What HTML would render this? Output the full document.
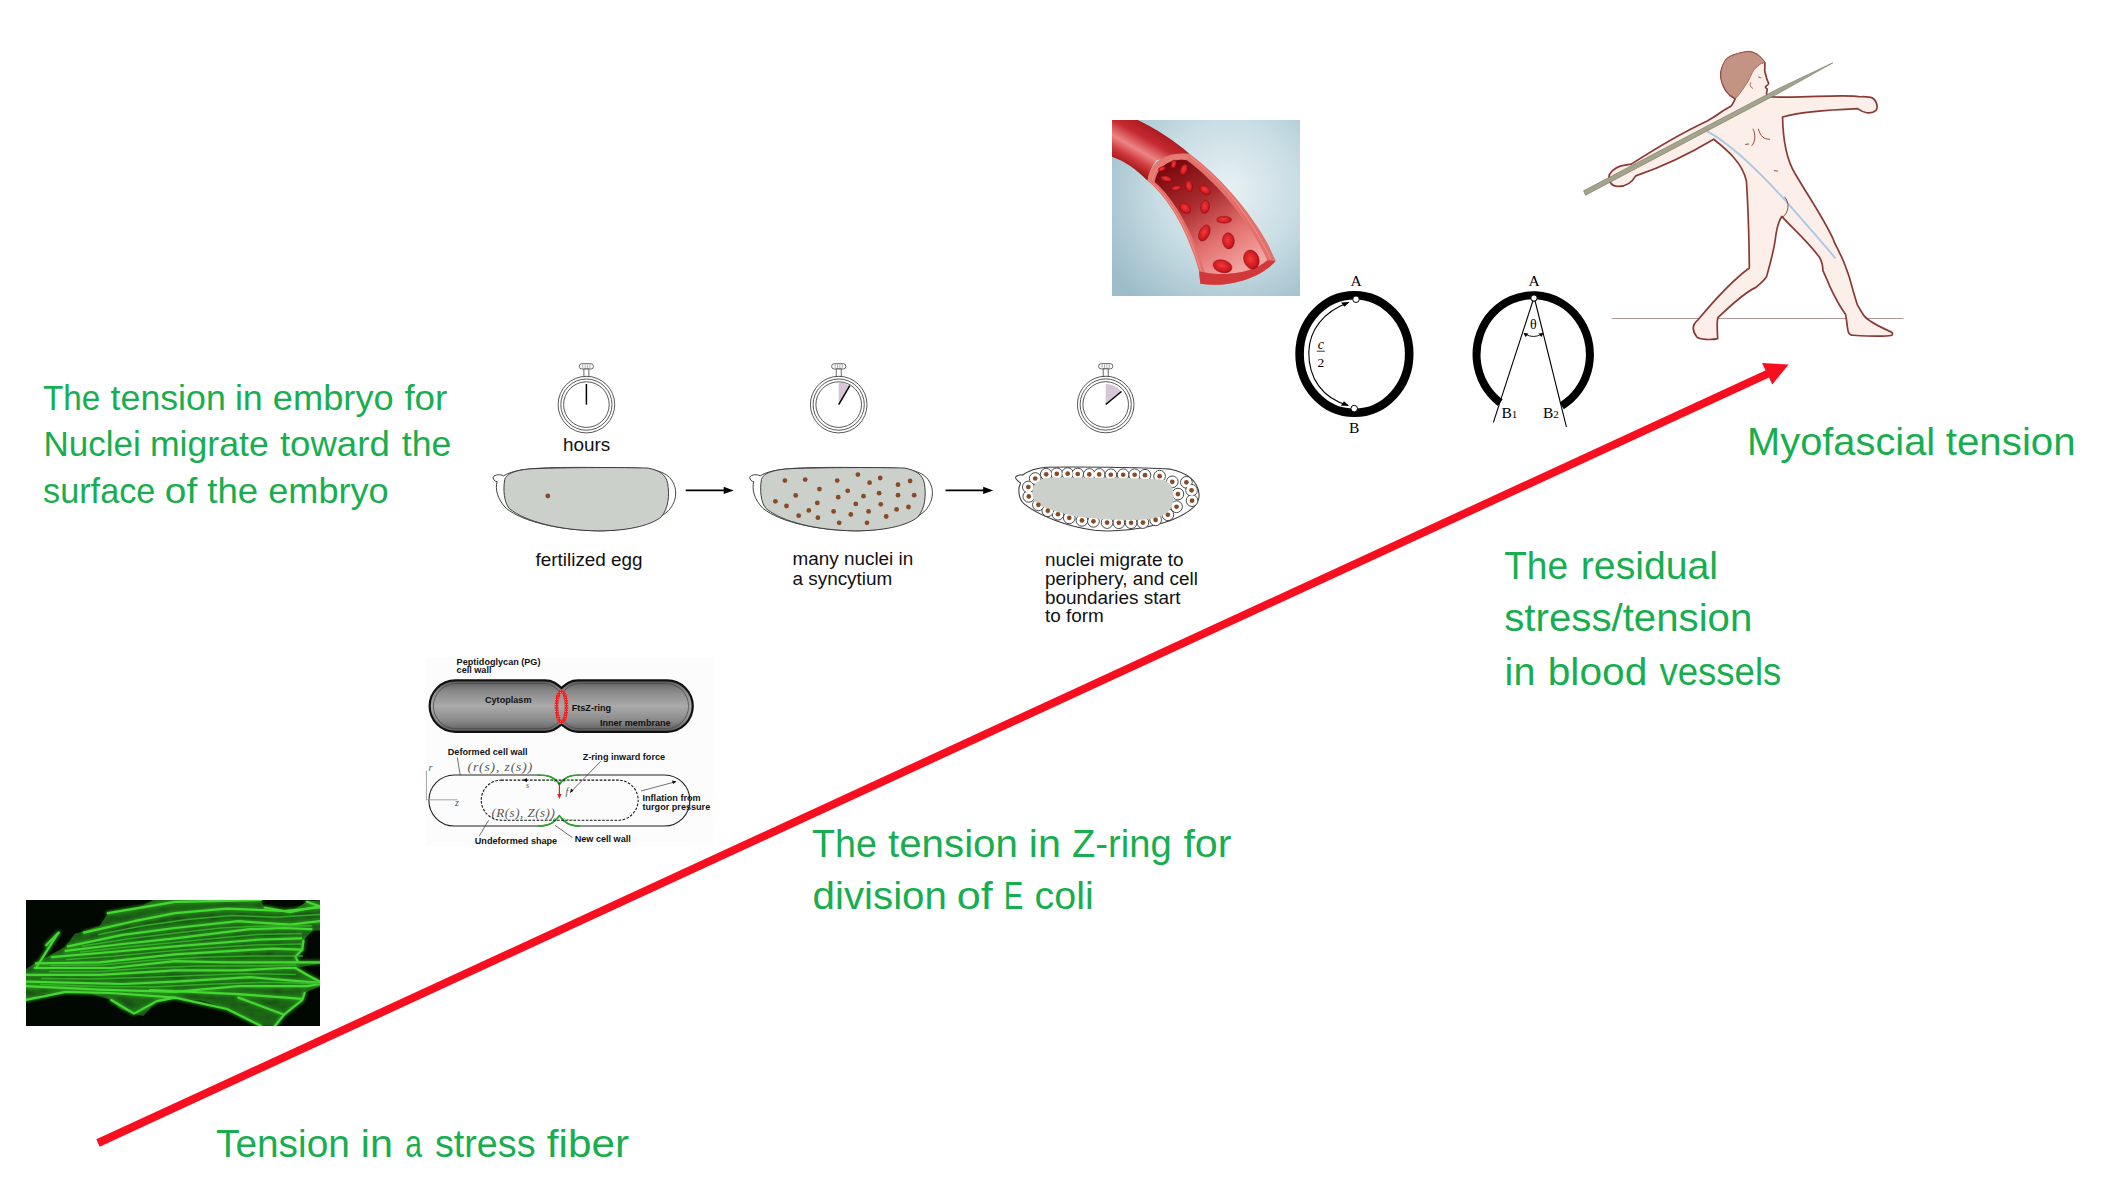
<!DOCTYPE html>
<html><head><meta charset="utf-8"><title>Tension</title>
<style>
html,body{margin:0;padding:0;background:#ffffff;overflow:hidden;width:2126px;height:1184px}
svg{display:block}
text{font-family:"Liberation Sans",sans-serif}
.g{fill:#18ae50;font-size:39.5px}
.ge{fill:#18ae50;font-size:35.8px}
.cap{fill:#111;font-size:15px}
.eb{fill:#2a2a2a;font-size:8.4px;font-weight:bold}
.ser,.ser text{font-family:"Liberation Serif",serif}
</style></head>
<body>
<svg width="2126" height="1184" viewBox="0 0 2126 1184">
<!-- stress fiber fluorescence image -->
<defs><clipPath id="fclip"><rect x="26" y="900" width="294" height="126"/></clipPath>
<filter id="fb1" x="-20%" y="-20%" width="140%" height="140%"><feGaussianBlur stdDeviation="1.6"/></filter>
<filter id="fb2" x="-20%" y="-20%" width="140%" height="140%"><feGaussianBlur stdDeviation="0.55"/></filter></defs>
<rect x="26" y="900" width="294" height="126" fill="#010701"/>
<g clip-path="url(#fclip)">
<polygon points="25.9,969.0 34.8,963.4 51.9,954.3 65.6,946.3 74.7,933.8 83.9,931.5 99.8,925.8 107.8,913.2 116.9,911.0 134.0,909.8 153.4,900.1 260.1,900.1 264.7,907.5 278.3,910.4 289.8,912.1 306.9,901.8 320.0,900.1 320.0,930.4 312.6,930.4 303.4,940.6 302.3,949.7 295.5,956.6 297.7,961.2 320.0,961.5 320.0,963.5 295.5,968.0 306.9,974.8 320.0,981.7 320.0,986.2 304.6,993.1 302.3,1000.0 284.0,1014.7 274.9,1026.0 261.2,1026.0 227.0,1009.0 204.2,1001.1 175.0,997.6 156.9,1001.1 143.2,1015.9 134.0,1013.6 120.4,1009.0 111.2,1000.0 88.4,993.1 65.6,991.9 42.8,994.2 25.9,999.9" fill="#1c6614" filter="url(#fb2)"/>
<clipPath id="cellclip"><polygon points="25.9,969.0 34.8,963.4 51.9,954.3 65.6,946.3 74.7,933.8 83.9,931.5 99.8,925.8 107.8,913.2 116.9,911.0 134.0,909.8 153.4,900.1 260.1,900.1 264.7,907.5 278.3,910.4 289.8,912.1 306.9,901.8 320.0,900.1 320.0,930.4 312.6,930.4 303.4,940.6 302.3,949.7 295.5,956.6 297.7,961.2 320.0,961.5 320.0,963.5 295.5,968.0 306.9,974.8 320.0,981.7 320.0,986.2 304.6,993.1 302.3,1000.0 284.0,1014.7 274.9,1026.0 261.2,1026.0 227.0,1009.0 204.2,1001.1 175.0,997.6 156.9,1001.1 143.2,1015.9 134.0,1013.6 120.4,1009.0 111.2,1000.0 88.4,993.1 65.6,991.9 42.8,994.2 25.9,999.9"/></clipPath>
<filter id="fnoise" x="0" y="0" width="100%" height="100%"><feTurbulence type="fractalNoise" baseFrequency="0.06 0.12" numOctaves="2" seed="7"/><feColorMatrix type="matrix" values="0 0 0 0 0.01  0 0 0 0 0.05  0 0 0 0 0.01  0 0 0 -2.2 1.25"/></filter>
<rect x="26" y="900" width="294" height="126" filter="url(#fnoise)" clip-path="url(#cellclip)" opacity="0.75"/>
<g fill="none" stroke="#2a9a1e" stroke-width="4.5" stroke-linejoin="round" stroke-linecap="round" filter="url(#fb1)" opacity="0.8">
<path d="M107.8,913.2 L175.0,901.8 L261.0,900.0"/>
<path d="M83.9,932.6 L134.0,921.2 L175.0,913.2 L227.0,908.7 L284.0,911.0 L320.0,907.5"/>
<path d="M67.9,946.3 L122.6,934.9 L175.0,928.0 L238.4,921.2 L289.8,924.7 L320.0,921.2"/>
<path d="M65.6,950.9 L122.6,944.0 L175.0,938.3 L249.8,929.2 L284.0,928.0 L311.4,929.2"/>
<path d="M51.9,957.2 L111.2,952.0 L175.0,946.3 L261.2,939.5 L301.2,938.3"/>
<path d="M36.0,963.4 L99.8,962.3 L175.0,954.3 L272.6,948.6 L302.3,949.7"/>
<path d="M34.8,968.0 L111.2,968.0 L175.0,961.2 L227.0,962.3 L320.0,962.3"/>
<path d="M26.8,974.8 L99.8,974.8 L175.0,970.3 L238.4,970.3 L284.0,968.0 L295.5,968.0"/>
<path d="M25.9,981.7 L122.6,984.0 L175.0,981.7 L249.8,977.1 L320.0,982.8"/>
<path d="M25.9,986.2 L99.8,989.7 L175.0,991.9 L238.4,986.2 L306.9,986.2 L320.0,984.0"/>
<path d="M150.0,990.0 L238.4,994.2 L302.3,998.8"/>
<path d="M25.9,999.9 L65.6,991.9 L111.2,993.0 L175.0,997.6 L227.0,1009.0 L261.2,1026.0"/>
<path d="M238.4,997.6 L284.0,1014.7"/>
<path d="M46.2,945.2 L58.8,932.6"/>
<path d="M36.0,968.0 L57.6,933.8"/>
<path d="M111.2,1000.0 L134.0,1013.6 L156.9,1001.1 L175.0,997.6"/>
<path d="M264.7,907.5 L289.8,912.1 L320.0,906.0"/>
<path d="M303.4,940.6 L302.3,949.7 L295.5,956.6 L297.7,961.2"/>
<path d="M295.5,968.0 L306.9,974.8 L320.0,981.7"/>
<path d="M304.6,993.1 L302.3,1000.0 L284.0,1014.7 L274.9,1026.0"/>
<path d="M306.9,901.8 L320.0,906.4"/>
</g>
<g fill="none" stroke="#44d833" stroke-width="2.2" stroke-linejoin="round" stroke-linecap="round" filter="url(#fb2)">
<path d="M107.8,913.2 L175.0,901.8 L261.0,900.0"/>
<path d="M83.9,932.6 L134.0,921.2 L175.0,913.2 L227.0,908.7 L284.0,911.0 L320.0,907.5"/>
<path d="M67.9,946.3 L122.6,934.9 L175.0,928.0 L238.4,921.2 L289.8,924.7 L320.0,921.2"/>
<path d="M65.6,950.9 L122.6,944.0 L175.0,938.3 L249.8,929.2 L284.0,928.0 L311.4,929.2"/>
<path d="M51.9,957.2 L111.2,952.0 L175.0,946.3 L261.2,939.5 L301.2,938.3"/>
<path d="M36.0,963.4 L99.8,962.3 L175.0,954.3 L272.6,948.6 L302.3,949.7"/>
<path d="M34.8,968.0 L111.2,968.0 L175.0,961.2 L227.0,962.3 L320.0,962.3"/>
<path d="M26.8,974.8 L99.8,974.8 L175.0,970.3 L238.4,970.3 L284.0,968.0 L295.5,968.0"/>
<path d="M25.9,981.7 L122.6,984.0 L175.0,981.7 L249.8,977.1 L320.0,982.8"/>
<path d="M25.9,986.2 L99.8,989.7 L175.0,991.9 L238.4,986.2 L306.9,986.2 L320.0,984.0"/>
<path d="M150.0,990.0 L238.4,994.2 L302.3,998.8"/>
<path d="M25.9,999.9 L65.6,991.9 L111.2,993.0 L175.0,997.6 L227.0,1009.0 L261.2,1026.0"/>
<path d="M238.4,997.6 L284.0,1014.7"/>
<path d="M46.2,945.2 L58.8,932.6"/>
<path d="M36.0,968.0 L57.6,933.8"/>
<path d="M111.2,1000.0 L134.0,1013.6 L156.9,1001.1 L175.0,997.6"/>
<path d="M264.7,907.5 L289.8,912.1 L320.0,906.0"/>
<path d="M303.4,940.6 L302.3,949.7 L295.5,956.6 L297.7,961.2"/>
<path d="M295.5,968.0 L306.9,974.8 L320.0,981.7"/>
<path d="M304.6,993.1 L302.3,1000.0 L284.0,1014.7 L274.9,1026.0"/>
<path d="M306.9,901.8 L320.0,906.4"/>
</g>
<g fill="none" stroke="#36b82a" stroke-width="1.5" stroke-linejoin="round" stroke-linecap="round" filter="url(#fb2)" opacity="0.85">
<path d="M98.9,934.5 L143.1,925.8 L187.3,919.4 L231.6,915.4 L275.8,917.2 L320.0,914.4"/>
<path d="M82.9,946.0 L128.6,938.7 L174.3,933.2 L220.0,928.0 L265.7,925.9 L311.4,925.7"/>
<path d="M80.6,951.9 L124.7,947.3 L168.8,942.9 L213.0,938.5 L257.1,934.4 L301.2,933.5"/>
<path d="M66.9,959.4 L113.8,956.3 L160.6,951.7 L207.5,948.1 L254.3,944.9 L301.2,944.0"/>
<path d="M51.0,965.6 L101.3,965.1 L151.5,960.3 L201.8,957.3 L252.0,956.1 L302.3,956.0"/>
<path d="M49.8,971.4 L98.9,971.4 L148.1,968.0 L197.2,966.0 L246.4,966.1 L295.5,965.1"/>
<path d="M41.8,978.4 L92.5,979.0 L143.3,977.6 L194.0,975.4 L244.8,973.7 L295.5,974.4"/>
<path d="M40.9,984.5 L96.7,986.5 L152.5,987.0 L208.4,984.3 L264.2,982.2 L320.0,983.4"/>
</g>
</g>
<!-- blood vessel image: zoom origin (1105,115) factor 6.4 -->
<defs>
 <radialGradient id="vbg" gradientUnits="userSpaceOnUse" cx="1228" cy="190" r="140">
  <stop offset="0" stop-color="#e8f1f4"/>
  <stop offset="0.5" stop-color="#c8dde4"/>
  <stop offset="1" stop-color="#9dbdc9"/>
 </radialGradient>
 <linearGradient id="vtube" gradientUnits="userSpaceOnUse" x1="330" y1="60" x2="170" y2="340">
  <stop offset="0" stop-color="#a3141a"/>
  <stop offset="0.35" stop-color="#c42a30"/>
  <stop offset="0.62" stop-color="#ee8486"/>
  <stop offset="0.82" stop-color="#cf3a3e"/>
  <stop offset="1" stop-color="#a8181c"/>
 </linearGradient>
 <linearGradient id="vlumen" gradientUnits="userSpaceOnUse" x1="430" y1="320" x2="850" y2="1000">
  <stop offset="0" stop-color="#7a0a0f"/>
  <stop offset="0.35" stop-color="#a82a2c"/>
  <stop offset="0.7" stop-color="#e2716e"/>
  <stop offset="1" stop-color="#f3a4a2"/>
 </linearGradient>
 <radialGradient id="vcell" cx="0.45" cy="0.45" r="0.6">
  <stop offset="0" stop-color="#f23a3a"/>
  <stop offset="0.7" stop-color="#d01a20"/>
  <stop offset="1" stop-color="#a00c12"/>
 </radialGradient>
 <clipPath id="vclip"><rect x="1112" y="120" width="188" height="176"/></clipPath>
</defs>
<rect x="1112" y="120" width="188" height="176" fill="url(#vbg)"/>
<g clip-path="url(#vclip)">
<g transform="translate(1105,115) scale(0.15625)">
 <!-- outer tube (upper part) -->
 <path fill="url(#vtube)" d="M30,20 L185,20 C300,75 430,150 540,248 L330,290 C300,330 280,370 272,420 C200,345 120,290 30,262 Z"/>
 <!-- tube body lower (walls) -->
 <path fill="#e4706c" d="M272,420 C285,340 330,280 420,255 C470,245 510,245 540,248 C720,380 920,600 1045,830 L1092,935 C1000,1040 800,1110 610,1080 L602,1000 C545,800 440,560 272,420 Z"/>
 <!-- ring face -->
 <path fill="none" stroke="#e47a70" stroke-width="22" d="M285,420 C298,345 340,292 420,270 C470,258 510,258 535,262"/>
 <path fill="none" stroke="#f2a096" stroke-width="4" opacity="0.8" d="M300,425 C312,355 350,305 425,285 C470,273 505,272 528,276"/>
 <!-- inner lumen -->
 <path fill="url(#vlumen)" d="M318,428 C330,360 370,310 440,292 C480,285 505,284 525,290 C700,420 890,640 1005,860 L1040,930 C950,1005 800,1035 638,1008 C580,800 470,560 318,428 Z"/>
 <!-- wall light lines -->
 <path fill="none" stroke="#f4a49c" stroke-width="5" opacity="0.75" d="M292,428 C455,570 555,800 616,1002"/>
 <path fill="none" stroke="#f4a49c" stroke-width="5" opacity="0.75" d="M545,268 C725,400 915,615 1060,922"/>
 <!-- end cut face -->
 <path fill="#d2383a" d="M602,1000 L638,1008 C800,1035 950,1005 1040,930 L1092,935 C1000,1040 800,1110 610,1080 Z"/>
 <!-- red blood cells -->
 <g fill="url(#vcell)" stroke="#8e0a10" stroke-width="3">
  <ellipse cx="365" cy="345" rx="24" ry="13" transform="rotate(-20 365 345)"/>
  <ellipse cx="440" cy="315" rx="16" ry="28" transform="rotate(15 440 315)"/>
  <ellipse cx="505" cy="350" rx="22" ry="36" transform="rotate(20 505 350)"/>
  <ellipse cx="393" cy="408" rx="36" ry="17" transform="rotate(15 393 408)"/>
  <ellipse cx="538" cy="455" rx="22" ry="36" transform="rotate(-10 538 455)"/>
  <ellipse cx="457" cy="468" rx="32" ry="15" transform="rotate(-10 457 468)"/>
  <ellipse cx="640" cy="480" rx="38" ry="25" transform="rotate(35 640 480)"/>
  <ellipse cx="513" cy="597" rx="40" ry="28" transform="rotate(40 513 597)"/>
  <ellipse cx="640" cy="588" rx="28" ry="42" transform="rotate(10 640 588)"/>
  <ellipse cx="762" cy="670" rx="48" ry="22" transform="rotate(0 762 670)"/>
  <ellipse cx="636" cy="755" rx="32" ry="55" transform="rotate(25 636 755)"/>
  <ellipse cx="790" cy="805" rx="38" ry="52" transform="rotate(-5 790 805)"/>
  <ellipse cx="752" cy="968" rx="62" ry="40" transform="rotate(15 752 968)"/>
  <ellipse cx="937" cy="925" rx="48" ry="62" transform="rotate(-20 937 925)"/>
 </g>
</g>
</g>

<!-- circle diagrams -->
<g>
 <ellipse cx="1354.4" cy="354" rx="54.8" ry="58.8" fill="none" stroke="#000" stroke-width="8.6"/>
 <circle cx="1356" cy="299.2" r="3.3" fill="#fff" stroke="#000" stroke-width="1"/>
 <circle cx="1354.2" cy="408.6" r="3.3" fill="#fff" stroke="#000" stroke-width="1"/>
 <text class="ser" x="1356" y="285.5" font-size="15.5" text-anchor="middle" fill="#000">A</text>
 <text class="ser" x="1354.2" y="433" font-size="15.5" text-anchor="middle" fill="#000">B</text>
 <path d="M1348.5,302.5 C1323,312 1309.5,330 1308.8,352 C1308.5,378 1322,398 1348,405.5" fill="none" stroke="#000" stroke-width="1.1"/>
 <path d="M1349.5,302 L1341,302.5 L1344.5,306.8 Z" fill="#000"/>
 <path d="M1349,405.8 L1340.8,405.8 L1344,401.3 Z" fill="#000"/>
 <text class="ser" x="1320.8" y="348.5" font-size="14" font-style="italic" text-anchor="middle" fill="#000">c</text>
 <line x1="1316.8" y1="351.2" x2="1324.8" y2="351.2" stroke="#000" stroke-width="0.8"/>
 <text class="ser" x="1320.8" y="367" font-size="13.5" text-anchor="middle" fill="#000">2</text>
</g>
<g>
 <path d="M1500.2,402.7 A56.7,59.3 0 1 1 1561.7,405.8" fill="none" stroke="#000" stroke-width="8"/>
 <circle cx="1534" cy="298.1" r="3.2" fill="#fff" stroke="#000" stroke-width="1"/>
 <line x1="1533" y1="300.5" x2="1493.4" y2="422.3" stroke="#000" stroke-width="1.1"/>
 <line x1="1535" y1="300.5" x2="1566.4" y2="426.9" stroke="#000" stroke-width="1.1"/>
 <text class="ser" x="1533.4" y="329" font-size="14" text-anchor="middle" fill="#000">θ</text>
 <path d="M1525,334 Q1533.5,339 1542,334" fill="none" stroke="#000" stroke-width="0.9"/>
 <path d="M1523.5,333 L1528.5,333.5 L1525.5,337 Z" fill="#000"/>
 <path d="M1543.5,333 L1538.5,333.5 L1541.5,337 Z" fill="#000"/>
 <text class="ser" x="1534" y="285.5" font-size="15.5" text-anchor="middle" fill="#000">A</text>
 <text class="ser" x="1501.5" y="417.7" font-size="15.5" fill="#000">B<tspan font-size="11">1</tspan></text>
 <text class="ser" x="1543" y="417.7" font-size="15.5" fill="#000">B<tspan font-size="11">2</tspan></text>
</g>

<!-- embryo diagram -->
<rect x="579.3" y="363.7" width="14.2" height="5.3" rx="2.6" fill="#fff" stroke="#444" stroke-width="0.8"/>
<line x1="582.8" y1="364.4" x2="582.8" y2="368.3" stroke="#777" stroke-width="0.6"/>
<line x1="585.2" y1="364.4" x2="585.2" y2="368.3" stroke="#777" stroke-width="0.6"/>
<line x1="587.6" y1="364.4" x2="587.6" y2="368.3" stroke="#777" stroke-width="0.6"/>
<line x1="590.0" y1="364.4" x2="590.0" y2="368.3" stroke="#777" stroke-width="0.6"/>
<rect x="583.9" y="369.0" width="5" height="7.8" fill="#fff" stroke="#444" stroke-width="0.8"/>
<circle cx="586.4" cy="404.6" r="28.3" fill="#fff" stroke="#3a3a3a" stroke-width="0.85"/>
<circle cx="586.4" cy="404.6" r="25.6" fill="none" stroke="#3a3a3a" stroke-width="0.85"/>
<circle cx="586.4" cy="404.6" r="22.8" fill="none" stroke="#3a3a3a" stroke-width="0.85"/>
<line x1="586.4" y1="404.6" x2="586.4" y2="384" stroke="#000" stroke-width="1.5"/>
<rect x="831.6" y="363.7" width="14.2" height="5.3" rx="2.6" fill="#fff" stroke="#444" stroke-width="0.8"/>
<line x1="835.1" y1="364.4" x2="835.1" y2="368.3" stroke="#777" stroke-width="0.6"/>
<line x1="837.5" y1="364.4" x2="837.5" y2="368.3" stroke="#777" stroke-width="0.6"/>
<line x1="839.9" y1="364.4" x2="839.9" y2="368.3" stroke="#777" stroke-width="0.6"/>
<line x1="842.3" y1="364.4" x2="842.3" y2="368.3" stroke="#777" stroke-width="0.6"/>
<rect x="836.2" y="369.0" width="5" height="7.8" fill="#fff" stroke="#444" stroke-width="0.8"/>
<circle cx="838.7" cy="404.6" r="28.3" fill="#fff" stroke="#3a3a3a" stroke-width="0.85"/>
<circle cx="838.7" cy="404.6" r="25.6" fill="none" stroke="#3a3a3a" stroke-width="0.85"/>
<circle cx="838.7" cy="404.6" r="22.8" fill="none" stroke="#3a3a3a" stroke-width="0.85"/>
<path d="M838.7,404.6 L838.7,382.6 A22.0,22.0 0 0 1 849.8,385.6 Z" fill="#d6c6d8"/>
<line x1="838.7" y1="404.6" x2="849.8" y2="385.6" stroke="#000" stroke-width="1.5"/>
<rect x="1098.6" y="363.6" width="14.2" height="5.3" rx="2.6" fill="#fff" stroke="#444" stroke-width="0.8"/>
<line x1="1102.1" y1="364.3" x2="1102.1" y2="368.2" stroke="#777" stroke-width="0.6"/>
<line x1="1104.5" y1="364.3" x2="1104.5" y2="368.2" stroke="#777" stroke-width="0.6"/>
<line x1="1106.9" y1="364.3" x2="1106.9" y2="368.2" stroke="#777" stroke-width="0.6"/>
<line x1="1109.3" y1="364.3" x2="1109.3" y2="368.2" stroke="#777" stroke-width="0.6"/>
<rect x="1103.2" y="368.9" width="5" height="7.8" fill="#fff" stroke="#444" stroke-width="0.8"/>
<circle cx="1105.7" cy="404.5" r="28.3" fill="#fff" stroke="#3a3a3a" stroke-width="0.85"/>
<circle cx="1105.7" cy="404.5" r="25.6" fill="none" stroke="#3a3a3a" stroke-width="0.85"/>
<circle cx="1105.7" cy="404.5" r="22.8" fill="none" stroke="#3a3a3a" stroke-width="0.85"/>
<path d="M1105.7,404.5 L1105.7,384.0 A20.5,20.5 0 0 1 1121.5,391.5 Z" fill="#d6c6d8"/>
<line x1="1105.7" y1="404.5" x2="1121.5" y2="391.5" stroke="#000" stroke-width="1.5"/>
<g transform="translate(485,355) scale(0.194326)">
<path d="M95,622 C80,612 50,615 42,628 C40,642 52,650 62,652 C52,690 62,740 110,790 C200,860 380,900 580,905 C760,905 880,860 945,800 C990,750 995,680 950,630 C910,595 860,582 720,580 C520,578 300,575 200,590 C150,597 120,607 95,622 Z" fill="#fff" stroke="#3a3a3a" stroke-width="5"/>
<path d="M102,640 C92,690 98,760 125,790 C210,860 390,902 580,905 C760,905 860,870 905,835 C945,790 950,720 940,660 C930,615 900,595 840,582 C700,578 450,578 250,585 C160,590 110,610 102,640 Z" fill="#cbd1ca" stroke="#3a3a3a" stroke-width="5"/>
</g>
<circle cx="547.8" cy="496" r="2.4" fill="#8a4a26"/>
<g transform="translate(741.7,355) scale(0.194326)">
<path d="M95,622 C80,612 50,615 42,628 C40,642 52,650 62,652 C52,690 62,740 110,790 C200,860 380,900 580,905 C760,905 880,860 945,800 C990,750 995,680 950,630 C910,595 860,582 720,580 C520,578 300,575 200,590 C150,597 120,607 95,622 Z" fill="#fff" stroke="#3a3a3a" stroke-width="5"/>
<path d="M102,640 C92,690 98,760 125,790 C210,860 390,902 580,905 C760,905 860,870 905,835 C945,790 950,720 940,660 C930,615 900,595 840,582 C700,578 450,578 250,585 C160,590 110,610 102,640 Z" fill="#cbd1ca" stroke="#3a3a3a" stroke-width="5"/>
</g>
<g fill="#8a4a26">
<circle cx="784.9" cy="480.6" r="2.4"/>
<circle cx="805.2" cy="479.6" r="2.4"/>
<circle cx="837.2" cy="480.6" r="2.4"/>
<circle cx="857.9" cy="474.6" r="2.4"/>
<circle cx="869.6" cy="482.7" r="2.4"/>
<circle cx="880.2" cy="478.0" r="2.4"/>
<circle cx="898.0" cy="484.7" r="2.4"/>
<circle cx="910.1" cy="481.0" r="2.4"/>
<circle cx="819.4" cy="489.1" r="2.4"/>
<circle cx="847.7" cy="490.8" r="2.4"/>
<circle cx="795.7" cy="495.4" r="2.4"/>
<circle cx="838.2" cy="497.2" r="2.4"/>
<circle cx="863.5" cy="496.2" r="2.4"/>
<circle cx="879.1" cy="493.2" r="2.4"/>
<circle cx="898.0" cy="495.2" r="2.4"/>
<circle cx="914.2" cy="495.2" r="2.4"/>
<circle cx="775.4" cy="501.3" r="2.4"/>
<circle cx="817.3" cy="502.9" r="2.4"/>
<circle cx="855.8" cy="503.9" r="2.4"/>
<circle cx="880.8" cy="504.3" r="2.4"/>
<circle cx="786.5" cy="506.0" r="2.4"/>
<circle cx="808.8" cy="510.4" r="2.4"/>
<circle cx="833.6" cy="511.4" r="2.4"/>
<circle cx="868.6" cy="511.4" r="2.4"/>
<circle cx="896.6" cy="509.4" r="2.4"/>
<circle cx="908.5" cy="507.0" r="2.4"/>
<circle cx="798.7" cy="515.7" r="2.4"/>
<circle cx="817.9" cy="517.7" r="2.4"/>
<circle cx="850.8" cy="514.5" r="2.4"/>
<circle cx="886.2" cy="516.5" r="2.4"/>
<circle cx="839.2" cy="522.8" r="2.4"/>
<circle cx="867.0" cy="522.8" r="2.4"/>
</g>
<g transform="translate(1010,455) scale(0.094073)">
<path d="M130,215 C110,205 70,215 58,240 C60,262 90,280 112,300 C80,360 90,470 150,520 C300,640 600,760 900,800 C1100,820 1400,800 1700,700 C1900,620 2020,520 2010,420 C2000,300 1930,200 1700,150 C1400,130 700,125 380,130 C260,140 180,180 130,215 Z" fill="#fff" stroke="#3a3a3a" stroke-width="11"/>
<g fill="#fff" stroke="#3a3a3a" stroke-width="10">
<circle cx="385" cy="205" r="62"/>
<circle cx="497" cy="200" r="62"/>
<circle cx="613" cy="198" r="62"/>
<circle cx="720" cy="202" r="62"/>
<circle cx="843" cy="207" r="62"/>
<circle cx="948" cy="207" r="62"/>
<circle cx="1072" cy="210" r="62"/>
<circle cx="1203" cy="210" r="62"/>
<circle cx="1325" cy="210" r="62"/>
<circle cx="1435" cy="215" r="62"/>
<circle cx="1590" cy="225" r="62"/>
<circle cx="1725" cy="285" r="62"/>
<circle cx="1875" cy="290" r="62"/>
<circle cx="1930" cy="375" r="62"/>
<circle cx="1935" cy="485" r="62"/>
<circle cx="1785" cy="415" r="62"/>
<circle cx="1770" cy="550" r="62"/>
<circle cx="1678" cy="635" r="62"/>
<circle cx="1548" cy="690" r="62"/>
<circle cx="1413" cy="718" r="62"/>
<circle cx="1287" cy="720" r="62"/>
<circle cx="1157" cy="720" r="62"/>
<circle cx="1032" cy="718" r="62"/>
<circle cx="887" cy="705" r="62"/>
<circle cx="765" cy="695" r="62"/>
<circle cx="630" cy="668" r="62"/>
<circle cx="510" cy="630" r="62"/>
<circle cx="402" cy="592" r="62"/>
<circle cx="302" cy="530" r="62"/>
<circle cx="200" cy="440" r="62"/>
<circle cx="195" cy="340" r="62"/>
<circle cx="268" cy="250" r="62"/>
</g>
<g fill="#fff">
<circle cx="385" cy="205" r="52"/>
<circle cx="497" cy="200" r="52"/>
<circle cx="613" cy="198" r="52"/>
<circle cx="720" cy="202" r="52"/>
<circle cx="843" cy="207" r="52"/>
<circle cx="948" cy="207" r="52"/>
<circle cx="1072" cy="210" r="52"/>
<circle cx="1203" cy="210" r="52"/>
<circle cx="1325" cy="210" r="52"/>
<circle cx="1435" cy="215" r="52"/>
<circle cx="1590" cy="225" r="52"/>
<circle cx="1725" cy="285" r="52"/>
<circle cx="1875" cy="290" r="52"/>
<circle cx="1930" cy="375" r="52"/>
<circle cx="1935" cy="485" r="52"/>
<circle cx="1785" cy="415" r="52"/>
<circle cx="1770" cy="550" r="52"/>
<circle cx="1678" cy="635" r="52"/>
<circle cx="1548" cy="690" r="52"/>
<circle cx="1413" cy="718" r="52"/>
<circle cx="1287" cy="720" r="52"/>
<circle cx="1157" cy="720" r="52"/>
<circle cx="1032" cy="718" r="52"/>
<circle cx="887" cy="705" r="52"/>
<circle cx="765" cy="695" r="52"/>
<circle cx="630" cy="668" r="52"/>
<circle cx="510" cy="630" r="52"/>
<circle cx="402" cy="592" r="52"/>
<circle cx="302" cy="530" r="52"/>
<circle cx="200" cy="440" r="52"/>
<circle cx="195" cy="340" r="52"/>
<circle cx="268" cy="250" r="52"/>
</g>
<path d="M240,380 C250,290 330,240 450,240 C800,235 1300,245 1600,260 C1700,275 1740,340 1740,450 C1735,560 1690,620 1560,670 C1400,700 1000,700 720,655 C500,610 330,560 260,490 C240,450 235,410 240,380 Z" fill="#cbd1ca"/>
<g fill="#8a4a26">
<circle cx="385" cy="205" r="25"/>
<circle cx="497" cy="200" r="25"/>
<circle cx="613" cy="198" r="25"/>
<circle cx="720" cy="202" r="25"/>
<circle cx="843" cy="207" r="25"/>
<circle cx="948" cy="207" r="25"/>
<circle cx="1072" cy="210" r="25"/>
<circle cx="1203" cy="210" r="25"/>
<circle cx="1325" cy="210" r="25"/>
<circle cx="1435" cy="215" r="25"/>
<circle cx="1590" cy="225" r="25"/>
<circle cx="1725" cy="285" r="25"/>
<circle cx="1875" cy="290" r="25"/>
<circle cx="1930" cy="375" r="25"/>
<circle cx="1935" cy="485" r="25"/>
<circle cx="1785" cy="415" r="25"/>
<circle cx="1770" cy="550" r="25"/>
<circle cx="1678" cy="635" r="25"/>
<circle cx="1548" cy="690" r="25"/>
<circle cx="1413" cy="718" r="25"/>
<circle cx="1287" cy="720" r="25"/>
<circle cx="1157" cy="720" r="25"/>
<circle cx="1032" cy="718" r="25"/>
<circle cx="887" cy="705" r="25"/>
<circle cx="765" cy="695" r="25"/>
<circle cx="630" cy="668" r="25"/>
<circle cx="510" cy="630" r="25"/>
<circle cx="402" cy="592" r="25"/>
<circle cx="302" cy="530" r="25"/>
<circle cx="200" cy="440" r="25"/>
<circle cx="195" cy="340" r="25"/>
<circle cx="268" cy="250" r="25"/>
</g></g>
<line x1="685.7" y1="490.4" x2="725.7" y2="490.4" stroke="#000" stroke-width="1.6"/>
<path d="M733.7,490.4 L723.7,486.8 L723.7,494 Z" fill="#000"/>
<line x1="945.6" y1="490.4" x2="985.2" y2="490.4" stroke="#000" stroke-width="1.6"/>
<path d="M993.2,490.4 L983.2,486.8 L983.2,494 Z" fill="#000"/>
<g font-size="18.9" fill="#111">
<text x="563" y="451.1">hours</text>
<text x="535.5" y="566.1">fertilized egg</text>
<text x="792.5" y="565.3">many nuclei in</text>
<text x="792.5" y="584.5">a syncytium</text>
<text x="1045" y="566.3">nuclei migrate to</text>
<text x="1045" y="584.9">periphery, and cell</text>
<text x="1045" y="603.5">boundaries start</text>
<text x="1045" y="622.1">to form</text>
</g>
<!-- E. coli diagram -->
<defs>
 <linearGradient id="ecg" x1="0" y1="0" x2="0" y2="1">
  <stop offset="0" stop-color="#5c5c5c"/>
  <stop offset="0.22" stop-color="#8a8a8a"/>
  <stop offset="0.5" stop-color="#aaaaaa"/>
  <stop offset="0.78" stop-color="#8a8a8a"/>
  <stop offset="1" stop-color="#5a5a5a"/>
 </linearGradient>
 <pattern id="dotpat" x="0" y="0" width="2.4" height="2.4" patternUnits="userSpaceOnUse">
  <rect width="2.4" height="2.4" fill="#f01c1c"/>
  <circle cx="1.2" cy="1.2" r="0.45" fill="#ffd0d0"/>
 </pattern>
</defs>
<rect x="426" y="657" width="287" height="189" fill="#fcfcfc"/>
<!-- top capsule -->
<path d="M455.3,680.4 L545,680.4 C553,680.4 557,684 561.5,688 C566,684 570,680.4 578,680.4 L667.1,680.4 A25.7,25.7 0 0 1 667.1,731.8 L578,731.8 C570,731.8 566,728 561.5,724.5 C557,728 553,731.8 545,731.8 L455.3,731.8 A25.7,25.7 0 0 1 455.3,680.4 Z" fill="url(#ecg)" stroke="#111" stroke-width="2.2"/>
<path d="M456,683.5 L544,683.5 C551,683.5 555,687 558.5,690.5 M564.5,690.5 C568,687 572,683.5 579,683.5 L666,683.5 A22.6,22.6 0 0 1 666,728.7 L579,728.7 C572,728.7 568,725.5 564.5,722 M558.5,722 C555,725.5 551,728.7 544,728.7 L456,728.7 A22.6,22.6 0 0 1 456,683.5" fill="none" stroke="#444" stroke-width="0.7"/>
<ellipse cx="561.5" cy="706.6" rx="5" ry="15.4" fill="none" stroke="url(#dotpat)" stroke-width="3.6"/>
<g font-size="9.1" font-weight="bold" fill="#111">
 <text x="456.6" y="664.7">Peptidoglycan (PG)</text>
 <text x="456.6" y="673.4">cell wall</text>
 <text x="485" y="702.6">Cytoplasm</text>
 <text x="571.7" y="710.6">FtsZ-ring</text>
 <text x="599.9" y="725.9">Inner membrane</text>
 <text x="447.8" y="754.6">Deformed cell wall</text>
 <text x="582.7" y="759.7">Z-ring inward force</text>
 <text x="642.5" y="801">Inflation from</text>
 <text x="642.5" y="810">turgor pressure</text>
 <text x="474.8" y="843.5">Undeformed shape</text>
 <text x="574.7" y="842">New cell wall</text>
</g>
<!-- bottom capsule (deformed wall) -->
<path d="M454.4,775 L537.5,775 C550,775 555,778 559.4,783.7 C564,778 569,775 580,775 L664.4,775 A25.5,25.5 0 0 1 664.4,826 L580,826 C569,826 564,822 559.4,815.8 C555,822 550,826 537.5,826 L454.4,826 A25.5,25.5 0 0 1 454.4,775 Z" fill="none" stroke="#222" stroke-width="1.1"/>
<path d="M537.5,775 C550,775 555,778 559.4,783.7 C564,778 569,775 580,775 M537.5,826 C550,826 555,822 559.4,815.8 C564,822 569,826 580,826" fill="none" stroke="#2aa62a" stroke-width="1.6"/>
<!-- dashed undeformed -->
<path d="M501.3,780.1 L618.1,780.1 A20,20 0 0 1 618.1,820.2 L501.3,820.2 A20,20 0 0 1 501.3,780.1 Z" fill="none" stroke="#111" stroke-width="1.05" stroke-dasharray="2.6,1.5"/>
<path d="M546,780.1 C553,780.1 556,781.5 559.4,784.5 C563,781.5 566,780.1 573,780.1 M546,820.2 C553,820.2 556,818.5 559.4,816 C563,818.5 566,820.2 573,820.2" fill="none" stroke="#44aa44" stroke-width="0.9" stroke-dasharray="2.2,1.6"/>
<!-- axes -->
<path d="M426.4,770.6 L426.4,799.8 L457.3,799.8" fill="none" stroke="#999" stroke-width="0.9"/>
<!-- red force arrow -->
<line x1="559.4" y1="784" x2="559.4" y2="795" stroke="#e02020" stroke-width="1.2"/>
<path d="M559.4,799 L557.2,794 L561.6,794 Z" fill="#e02020"/>
<circle cx="559.4" cy="783.8" r="1.3" fill="#2a6a2a"/>
<path d="M523,780.1 L527,778 L527,782.2 Z" fill="#111"/>
<!-- leader lines -->
<g stroke="#333" stroke-width="0.7" fill="none">
 <line x1="457.3" y1="757.5" x2="460.2" y2="775"/>
 <line x1="600.9" y1="761.1" x2="570.3" y2="792.5"/>
 <line x1="641" y1="791" x2="676" y2="781.6"/>
 <line x1="479.2" y1="836.2" x2="488.6" y2="820.2"/>
 <line x1="572.5" y1="837.7" x2="555" y2="825.3"/>
</g>
<path d="M570,793 L571,788.5 L573.5,790.8 Z" fill="#111"/>
<path d="M676.5,781.5 L672,780.6 L673,784 Z" fill="#111"/>
<!-- math labels -->
<g class="ser" font-style="italic" fill="#555">
 <text x="467.5" y="771.4" font-size="13.5" letter-spacing="0.9">(r(s), z(s))</text>
 <text x="491.5" y="816.6" font-size="13" letter-spacing="0.5">(R(s), Z(s))</text>
 <text x="428.5" y="771.4" font-size="10">r</text>
 <text x="455" y="806.3" font-size="10">z</text>
 <text x="526" y="788" font-size="8">s</text>
 <text x="565.5" y="795.4" font-size="10">f</text>
</g>

<!-- javelin thrower: zoom origin (1575,45) factor 3.8206 -->
<g transform="translate(1575,45) scale(0.261739)">
 <line x1="140" y1="1045" x2="1255" y2="1045" stroke="#ae9898" stroke-width="4.5"/>
 <path fill="#fcefe9" stroke="#8a3a34" stroke-width="6.5" stroke-linejoin="round" d="
 M505,290 C420,330 300,400 215,455
 L175,462 C150,470 128,490 130,505 C132,525 140,540 160,540 C190,542 215,530 232,500
 C320,470 430,420 530,360
 C580,400 640,450 655,520
 C660,600 665,700 666,852
 C600,900 520,990 470,1050
 C445,1070 450,1095 465,1115 C475,1125 520,1128 545,1122 C545,1100 540,1060 546,1042
 C600,990 660,940 690,927 C710,910 725,895 732,885
 C750,820 760,780 765,745
 C770,700 780,670 790,655
 C830,700 880,740 934,811
 C945,830 947,850 947,861 C955,880 965,900 972,919 C1000,980 1020,1010 1034,1030 C1040,1060 1040,1090 1046,1100
 C1050,1108 1060,1109 1062,1109 C1110,1112 1180,1115 1211,1109 C1215,1100 1212,1098 1207,1096
 C1160,1075 1120,1055 1104,1034 C1095,1020 1085,1005 1079,993 C1065,950 1055,910 1046,881 C1035,850 1025,820 1013,799 C1000,770 990,755 988,745
 C950,660 880,560 840,490 C810,440 795,380 793,275
 C850,258 960,248 1080,243
 C1100,258 1130,268 1150,250 C1160,235 1150,205 1130,200 C1100,195 1085,200 1076,196
 C1000,190 900,200 805,199
 C770,200 750,200 734,195
 C733,190 732,186 732,182
 C733,176 736,171 734,168 C730,165 726,162 728,159 C733,155 741,150 740,147
 C736,138 733,130 732,126 C729,116 727,108 725,100 C725,85 726,75 725,67
 C705,40 680,25 662,25 C620,30 585,45 575,60 C560,85 555,110 558,126 C562,150 575,175 590,190 C600,198 608,202 612,206
 C605,220 600,230 598,232 C585,240 570,247 560,255 C540,270 520,282 505,290 Z"/>
 <path fill="#c39383" stroke="#9a5a4c" stroke-width="3" d="M558,126 C555,100 565,65 580,52 C600,38 630,28 662,25 C690,28 712,45 726,67 C715,70 708,72 704,76 C695,85 688,90 684,94 C675,110 668,125 663,136 C655,150 648,160 642,168 C630,185 620,198 614,204 C605,198 595,192 589,189 C578,175 570,165 568,157 C562,145 559,135 558,126 Z"/>
 <path fill="none" stroke="#8a3a34" stroke-width="3" d="M672,143 C668,150 668,160 680,166 M700,122 L712,126"/>
 <path fill="none" stroke="#a9c8e6" stroke-width="7" d="M505,330 C600,380 700,480 800,590 C870,670 950,760 995,815"/>
 <g fill="none" stroke="#8a3a30" stroke-width="3.5">
  <path d="M680,320 C690,340 690,370 675,385 M700,320 C710,350 720,360 745,360"/>
  <path d="M650,380 L665,378"/>
  <path d="M760,480 L775,482"/>
  <path d="M800,580 C820,600 820,640 790,660"/>
 </g>
 <path fill="#a4a38e" stroke="#7a7964" stroke-width="2.5" d="M33,557 L780,165 L985,68 L790,178 L40,574 Z"/>
</g>

<!-- red arrow -->
<line x1="98" y1="1143" x2="1768" y2="373.7" stroke="#f80f1f" stroke-width="8"/>
<polygon points="1788.6,364.4 1762,363.1 1772.3,384.4" fill="#f80f1f"/>

<!-- green labels (per-word fitted) -->
<g fill="#18ae50" style="font-family:'Liberation Sans',sans-serif">
<text x="43.00" y="410" font-size="35.8" textLength="57.24" lengthAdjust="spacingAndGlyphs">The</text>
<text x="110.60" y="410" font-size="35.8" textLength="115.20" lengthAdjust="spacingAndGlyphs">tension</text>
<text x="234.90" y="410" font-size="35.8" textLength="27.92" lengthAdjust="spacingAndGlyphs">in</text>
<text x="272.89" y="410" font-size="35.8" textLength="120.83" lengthAdjust="spacingAndGlyphs">embryo</text>
<text x="404.40" y="410" font-size="35.8" textLength="42.92" lengthAdjust="spacingAndGlyphs">for</text>
<text x="43.44" y="456" font-size="35.8" textLength="97.37" lengthAdjust="spacingAndGlyphs">Nuclei</text>
<text x="149.91" y="456" font-size="35.8" textLength="118.90" lengthAdjust="spacingAndGlyphs">migrate</text>
<text x="279.90" y="456" font-size="35.8" textLength="109.85" lengthAdjust="spacingAndGlyphs">toward</text>
<text x="401.80" y="456" font-size="35.8" textLength="49.50" lengthAdjust="spacingAndGlyphs">the</text>
<text x="43.04" y="503" font-size="35.8" textLength="112.33" lengthAdjust="spacingAndGlyphs">surface</text>
<text x="164.81" y="503" font-size="35.8" textLength="32.43" lengthAdjust="spacingAndGlyphs">of</text>
<text x="207.30" y="503" font-size="35.8" textLength="50.93" lengthAdjust="spacingAndGlyphs">the</text>
<text x="268.29" y="503" font-size="35.8" textLength="120.43" lengthAdjust="spacingAndGlyphs">embryo</text>
<text x="216.00" y="1157" font-size="39.5" textLength="133.83" lengthAdjust="spacingAndGlyphs">Tension</text>
<text x="360.81" y="1157" font-size="39.5" textLength="32.15" lengthAdjust="spacingAndGlyphs">in</text>
<text x="405.14" y="1157" font-size="39.5" textLength="16.74" lengthAdjust="spacingAndGlyphs">a</text>
<text x="434.95" y="1157" font-size="39.5" textLength="100.57" lengthAdjust="spacingAndGlyphs">stress</text>
<text x="546.80" y="1157" font-size="39.5" textLength="82.16" lengthAdjust="spacingAndGlyphs">fiber</text>
<text x="812.00" y="857" font-size="39.5" textLength="64.92" lengthAdjust="spacingAndGlyphs">The</text>
<text x="888.00" y="857" font-size="39.5" textLength="129.91" lengthAdjust="spacingAndGlyphs">tension</text>
<text x="1028.81" y="857" font-size="39.5" textLength="32.15" lengthAdjust="spacingAndGlyphs">in</text>
<text x="1071.93" y="857" font-size="39.5" textLength="99.77" lengthAdjust="spacingAndGlyphs">Z-ring</text>
<text x="1183.40" y="857" font-size="39.5" textLength="48.16" lengthAdjust="spacingAndGlyphs">for</text>
<text x="812.58" y="909" font-size="39.5" textLength="134.33" lengthAdjust="spacingAndGlyphs">division</text>
<text x="956.81" y="909" font-size="39.5" textLength="35.97" lengthAdjust="spacingAndGlyphs">of</text>
<text x="1003.66" y="909" font-size="39.5" textLength="19.64" lengthAdjust="spacingAndGlyphs">E</text>
<text x="1034.50" y="909" font-size="39.5" textLength="59.17" lengthAdjust="spacingAndGlyphs">coli</text>
<text x="1504.20" y="579" font-size="39.5" textLength="63.91" lengthAdjust="spacingAndGlyphs">The</text>
<text x="1580.82" y="579" font-size="39.5" textLength="137.25" lengthAdjust="spacingAndGlyphs">residual</text>
<text x="1504.28" y="631" font-size="39.5" textLength="248.02" lengthAdjust="spacingAndGlyphs">stress/tension</text>
<text x="1504.60" y="685" font-size="39.5" textLength="30.77" lengthAdjust="spacingAndGlyphs">in</text>
<text x="1547.74" y="685" font-size="39.5" textLength="99.59" lengthAdjust="spacingAndGlyphs">blood</text>
<text x="1659.40" y="685" font-size="39.5" textLength="121.99" lengthAdjust="spacingAndGlyphs">vessels</text>
<text x="1747.08" y="455" font-size="39.5" textLength="188.11" lengthAdjust="spacingAndGlyphs">Myofascial</text>
<text x="1945.70" y="455" font-size="39.5" textLength="130.01" lengthAdjust="spacingAndGlyphs">tension</text>
</g>
</svg>
</body></html>
